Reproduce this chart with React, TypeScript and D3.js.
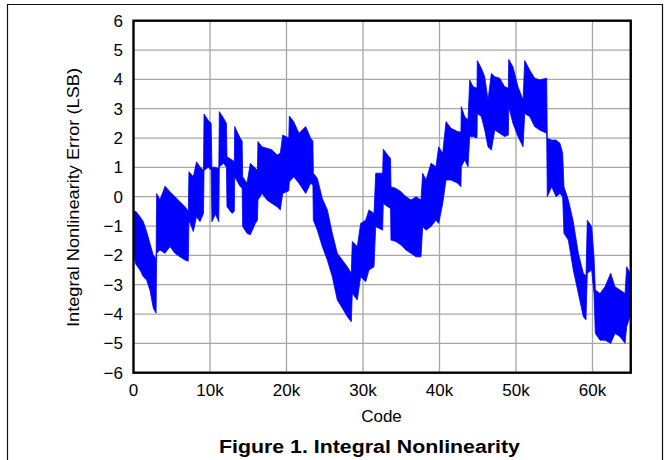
import React from 'react';
import * as d3 from 'd3';

// Code positions (LSB code) with the upper and lower envelope of the INL trace
const codes = [
  0, 300, 850, 1280, 1720, 2160, 2590, 2950,
  3030, 3460, 4120, 4770, 5420, 6080, 6730, 7160,
  7250, 7820, 8240, 8690, 9150,
  9220, 9780, 10150,
  10250, 10700, 11150,
  11220, 11790, 12150,
  12220, 12880, 13180,
  13230, 13960, 14200,
  14270, 14840, 15270, 15920, 16200,
  16270, 16800, 17450, 18100, 18760, 19190, 19500, 20300,
  20370, 20940, 21630, 22510, 23160, 23450,
  23510, 24030, 24680, 25340, 25990, 26640, 27300, 27950, 28470,
  28600, 29260, 29690, 30350, 30780, 31440,
  31660, 32570,
  32650, 33230, 33600,
  33660, 34310, 34970, 35620, 36270, 36930, 37580,
  37800, 38240, 38890, 39540, 39890, 40420,
  40850, 41500, 42380, 42800,
  42850, 43290, 43730,
  43950, 44390, 44900,
  44940, 45470, 45910, 46340, 46780, 47230, 47870, 48520, 49000,
  49050, 49600, 50260, 50920,
  51140, 51790, 52440, 53100, 54010,
  54090, 54670, 55230, 55750, 56100,
  56270, 56840, 57490, 58150, 58800, 59150,
  59320, 59890, 60200,
  60370, 60980, 61630, 62380, 62940, 63590, 64250, 64470, 64900,
];

const inlHigh = [
  -0.5, -0.5, -0.68, -0.85, -1.19, -1.6, -2.0, -2.1,
  0.11, -0.11, 0.36, 0.17, 0.0, -0.17, -0.34, -0.5,
  0.85, 0.68, 1.19, 1.02, 0.9,
  2.82, 2.6, 2.5,
  1.0, 1.0, 0.95,
  2.9, 2.67, 2.5,
  1.36, 1.25, 1.2,
  2.39, 1.99, 1.9,
  0.68, 0.46, 1.14, 0.97, 0.9,
  1.88, 1.7, 1.65, 1.6, 1.42, 1.48, 2.1, 2.0,
  2.75, 2.56, 2.16, 2.39, 1.99, 1.9,
  0.8, 0.63, -0.06, -0.45, -1.25, -1.93, -2.16, -2.39, -2.61,
  -1.53, -1.7, -0.91, -0.8, -0.45, -0.57,
  0.8, 0.8,
  1.62, 1.42, 1.3,
  0.34, 0.28, 0.17, 0.0, -0.11, 0.0, -0.11,
  0.8, 0.57, 1.14, 1.02, 1.7, 1.48,
  2.56, 2.33, 2.22, 2.2,
  3.07, 2.73, 2.62,
  3.98, 3.75, 3.7,
  4.64, 4.38, 4.09, 3.3, 4.2, 4.09, 4.04, 3.75, 3.7,
  4.68, 4.43, 3.75, 3.3,
  4.64, 4.32, 4.04, 3.98, 4.04,
  1.99, 1.93, 1.93, 1.82, 1.48,
  0.34, -0.11, -0.85, -1.93, -2.61, -2.7,
  -0.8, -1.02, -2.05,
  -3.18, -3.3, -3.07, -2.61, -3.07, -3.18, -3.3, -2.39, -2.6,
];

const inlLow = [
  -2.0, -2.3, -2.5, -2.73, -2.84, -3.2, -3.8, -3.97,
  -1.92, -1.82, -1.93, -1.7, -1.93, -2.05, -2.16, -2.2,
  -0.8, -1.19, -0.68, -0.85, -0.57,
  0.9, 1.0, 0.9,
  -0.85, -0.6, -0.85,
  1.02, 1.14, 1.0,
  -0.34, -0.57, -0.5,
  0.68, 0.34, 0.3,
  -1.02, -1.25, -1.3, -0.91, -0.8,
  -0.11, 0.11, -0.11, -0.23, -0.34, -0.45, 0.11, 0.2,
  0.5, 0.68, 0.46, 0.11, 0.46, 0.4,
  -0.8, -1.14, -1.7, -2.16, -2.73, -3.52, -3.8, -4.09, -4.26,
  -3.3, -3.52, -2.73, -2.9, -2.5, -2.39,
  -1.02, -1.14,
  -0.23, -0.34, -0.4,
  -1.48, -1.53, -1.65, -1.82, -1.93, -2.05, -2.05,
  -1.02, -1.14, -1.02, -0.8, -0.91, -0.23,
  0.57, 0.57, 0.46, 0.34,
  1.02, 1.25, 1.02,
  2.05, 2.05, 2.0,
  2.84, 2.73, 2.27, 1.7, 1.59, 2.27, 2.16, 2.05, 2.1,
  3.07, 2.5, 2.05, 1.7,
  2.84, 2.73, 2.39, 2.27, 2.16,
  0.0, 0.34, 0.0, 0.11, 0.0,
  -1.25, -1.48, -2.5, -3.3, -4.09, -4.2,
  -2.61, -2.5, -3.3,
  -4.66, -4.89, -4.89, -5.0, -4.66, -4.77, -5.0, -4.43, -4.09,
];

const xTicks = [0, 10000, 20000, 30000, 40000, 50000, 60000];
const xTickLabels = ['0', '10k', '20k', '30k', '40k', '50k', '60k'];
const yTicks = [-6, -5, -4, -3, -2, -1, 0, 1, 2, 3, 4, 5, 6];

const FONT = '"Liberation Sans", Arial, Helvetica, sans-serif';

export default function App() {
  const W = 669;
  const H = 460;
  const x = d3.scaleLinear().domain([0, 65000]).range([133.5, 630.75]);
  const y = d3.scaleLinear().domain([-6, 6]).range([372.7, 20.7]);
  const data = codes.map((c, i) => ({ c, lo: inlLow[i], hi: inlHigh[i] }));
  const area = d3
    .area<{ c: number; lo: number; hi: number }>()
    .x((d) => x(d.c))
    .y0((d) => y(d.lo))
    .y1((d) => y(d.hi));
  const [x0, x1] = x.range();
  const [yb, yt] = y.range();
  const fmt = (v: number) => (v < 0 ? '\u2212' + Math.abs(v) : String(v));

  return (
    <svg width={W} height={H} style={{ position: 'absolute', left: 0, top: 0, background: '#fff' }}>
      <rect x={0} y={0} width={W} height={H} fill="#fff" />
      {/* outer frame */}
      <path d={`M7.5,${H + 2} V4.5 H662.5 V${H + 2}`} fill="none" stroke="#111" strokeWidth={1.2} />
      {/* grid */}
      {xTicks.slice(1).map((t) => (
        <line key={'gx' + t} x1={x(t)} x2={x(t)} y1={yt} y2={yb} stroke="#a6a6a6" strokeWidth={1.3} />
      ))}
      {yTicks.slice(1, -1).map((t) => (
        <line key={'gy' + t} x1={x0} x2={x1} y1={y(t)} y2={y(t)} stroke="#a6a6a6" strokeWidth={1.3} />
      ))}
      {/* data */}
      <path d={area(data) || ''} fill="#0000ff" stroke="#0000ff" strokeWidth={0.8} strokeLinejoin="miter" />
      {/* plot border */}
      <rect x={x0} y={yt} width={x1 - x0} height={yb - yt} fill="none" stroke="#000" strokeWidth={2.4} />
      {/* y tick labels */}
      {yTicks.map((t) => (
        <text key={'yl' + t} x={123} y={y(t) + 6} textAnchor="end" fontFamily={FONT} fontSize={17} fill="#000">
          {fmt(t)}
        </text>
      ))}
      {/* x tick labels */}
      {xTicks.map((t, i) => (
        <text key={'xl' + t} x={x(t)} y={396} textAnchor="middle" fontFamily={FONT} fontSize={17} fill="#000">
          {xTickLabels[i]}
        </text>
      ))}
      <text x={381.5} y={422} textAnchor="middle" fontFamily={FONT} fontSize={17} fill="#000">
        Code
      </text>
      <text
        transform="translate(79,197.5) rotate(-90)"
        textAnchor="middle"
        fontFamily={FONT}
        fontSize={17}
        textLength={259}
        lengthAdjust="spacingAndGlyphs"
        fill="#000"
      >
        Integral Nonlinearity Error (LSB)
      </text>
      <text
        x={369.5}
        y={453}
        textAnchor="middle"
        fontFamily={FONT}
        fontSize={18}
        fontWeight="bold"
        textLength={301}
        lengthAdjust="spacingAndGlyphs"
        fill="#000"
      >
        Figure 1. Integral Nonlinearity
      </text>
    </svg>
  );
}
